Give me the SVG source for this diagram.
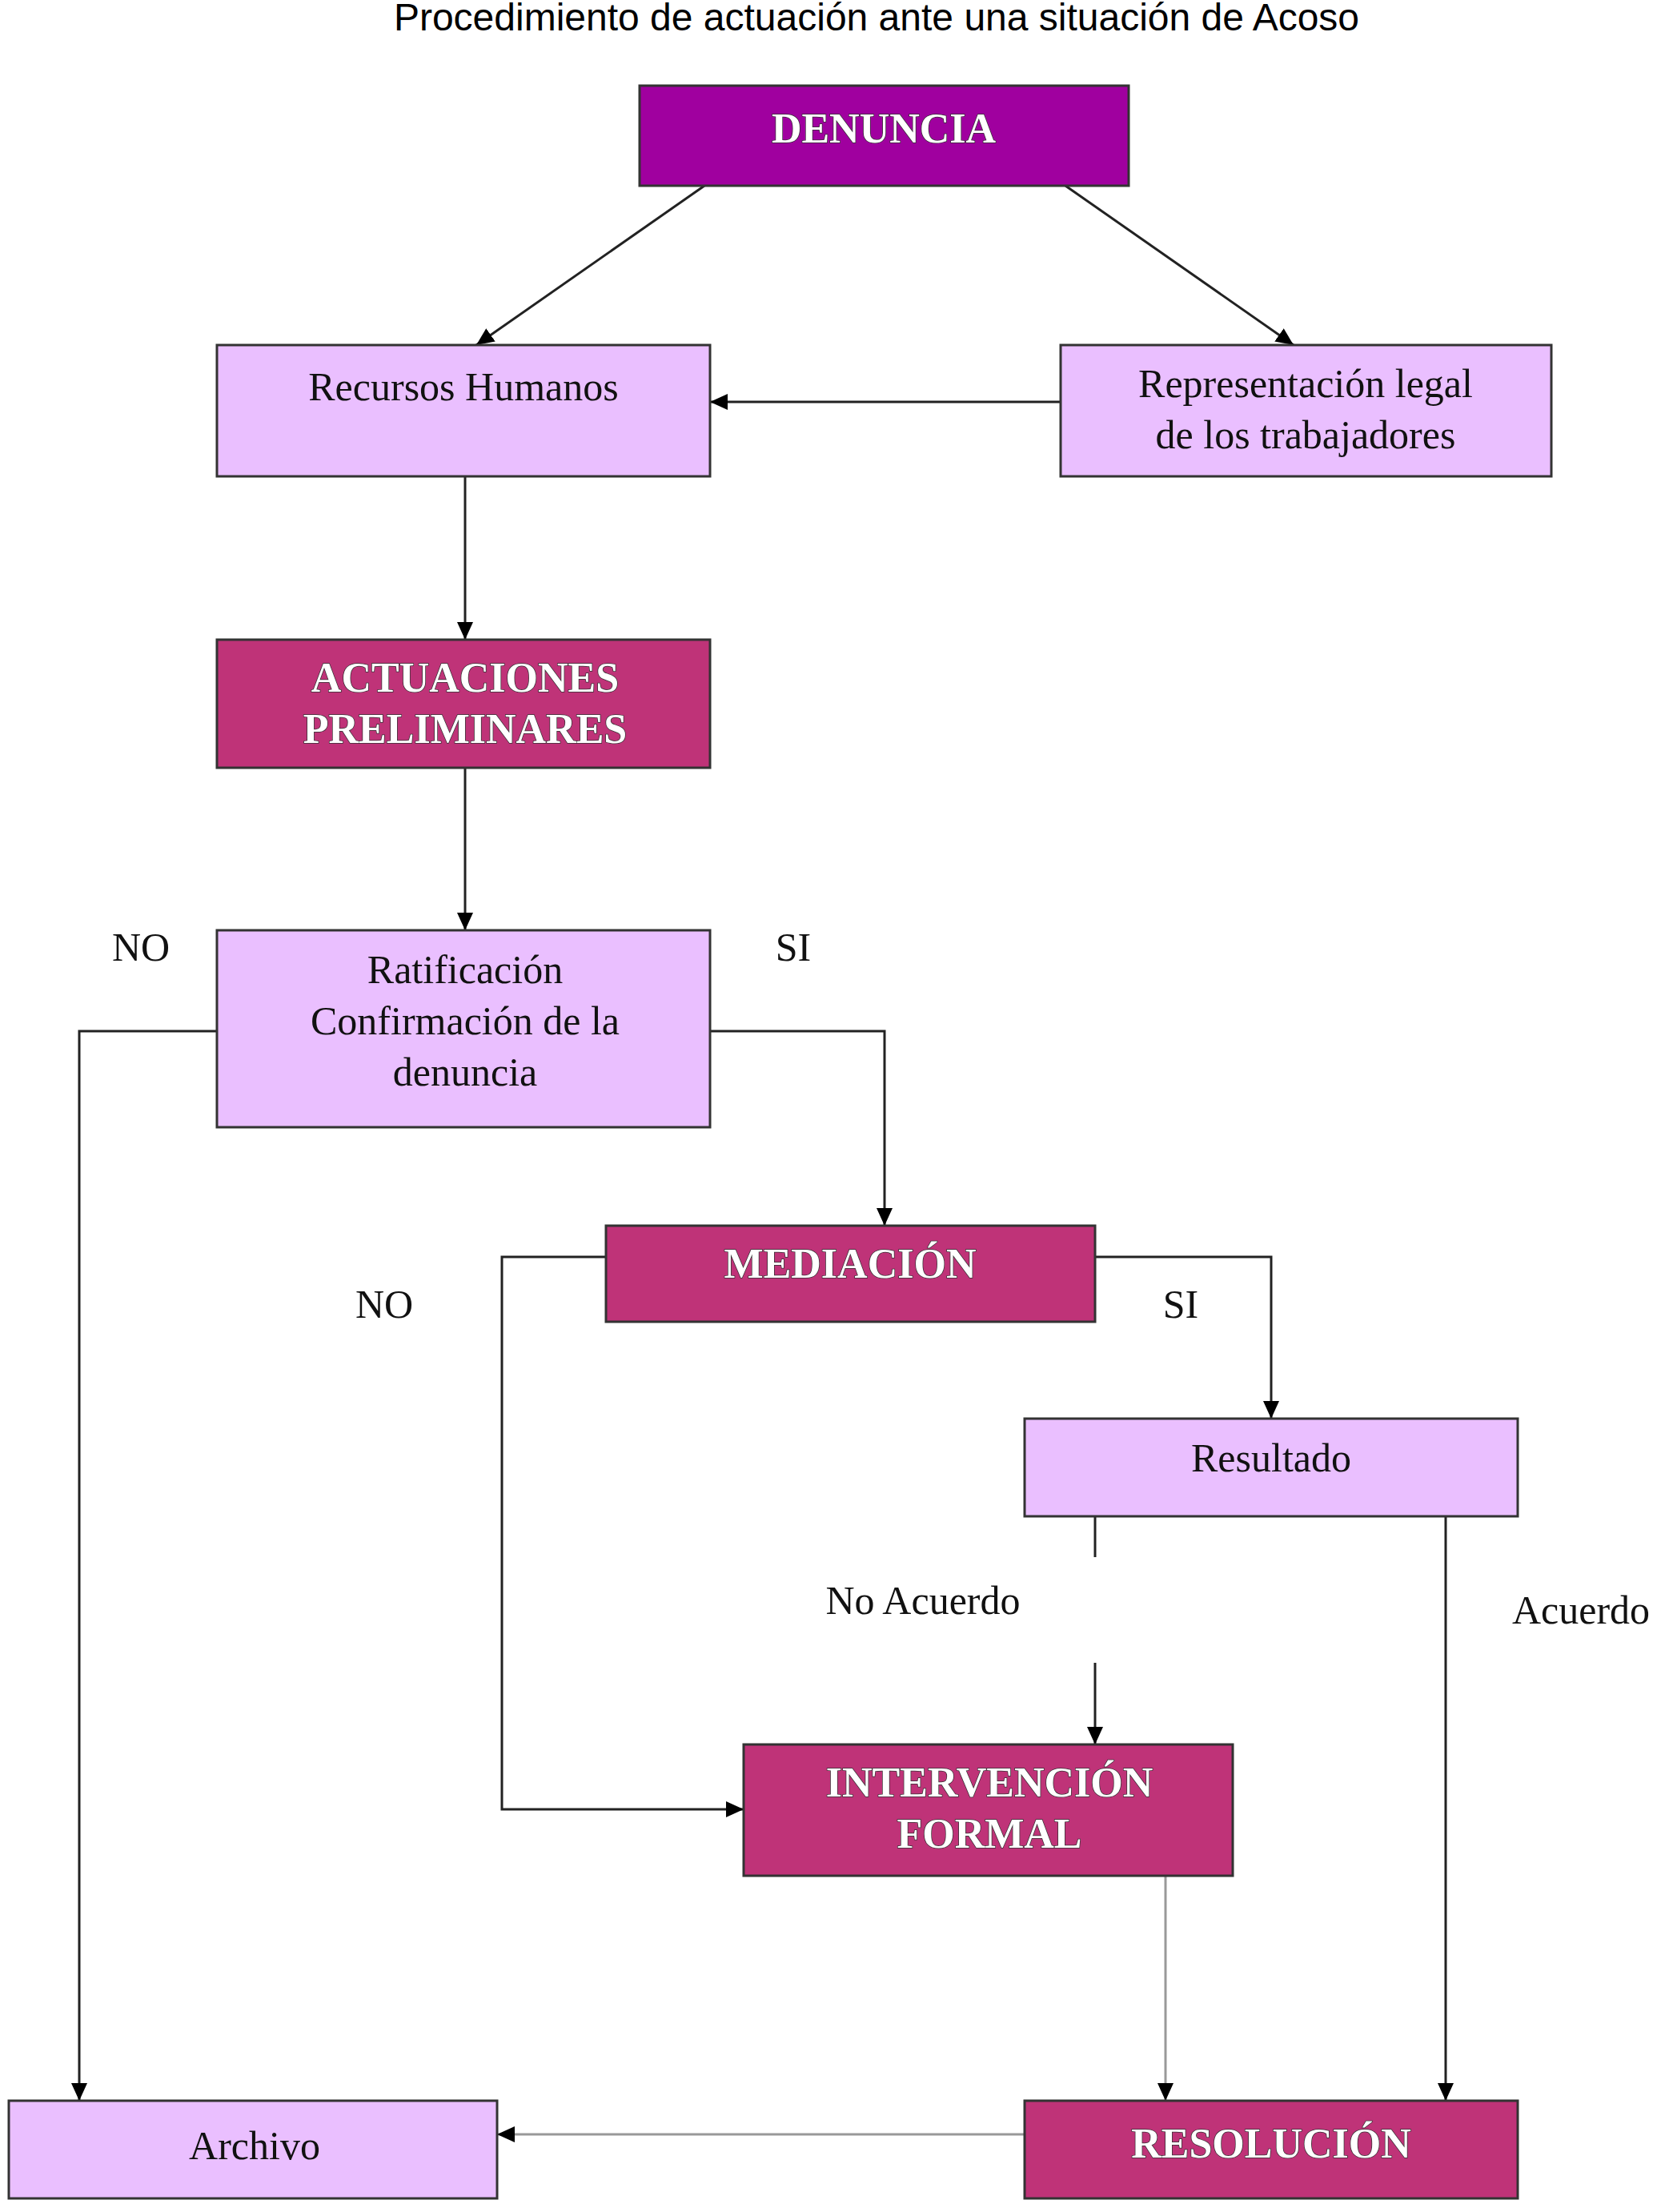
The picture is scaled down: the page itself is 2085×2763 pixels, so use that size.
<svg xmlns="http://www.w3.org/2000/svg" width="2085" height="2763" viewBox="0 0 2085 2763">
<style>
.light{fill:#eabfff;stroke:#333;stroke-width:3}
.dark{fill:#bf3378;stroke:#333;stroke-width:3}
.purple{fill:#a0009f;stroke:#333;stroke-width:3}
.t{font-family:"Liberation Serif",serif;font-size:50px;fill:#111;text-anchor:middle}
.w{font-family:"Liberation Serif",serif;font-size:52px;font-weight:bold;fill:#fff;text-anchor:middle;stroke:#333;stroke-width:1.5;paint-order:stroke}
.l{font-family:"Liberation Serif",serif;font-size:50px;fill:#111;text-anchor:middle}
.c{fill:none;stroke:#222;stroke-width:3}
.g{fill:none;stroke:#999;stroke-width:3}
</style>
<defs>
<marker id="a" viewBox="0 0 10 10" refX="10" refY="5" markerWidth="8" markerHeight="8" markerUnits="userSpaceOnUse" orient="auto"><path d="M0,0L10,5L0,10z" fill="#000"/></marker>
<marker id="b" markerWidth="22" markerHeight="20" refX="22" refY="10" markerUnits="userSpaceOnUse" orient="auto"><path d="M0,0L22,10L0,20z" fill="#000"/></marker>
</defs>
<rect width="2085" height="2763" fill="#fff"/>
<text x="1095" y="38" font-family="Liberation Sans,Arial,sans-serif" font-size="48" text-anchor="middle" fill="#000">Procedimiento de actuación ante una situación de Acoso</text>
<g id="connectors">
<path class="c" d="M880,232L595,431" marker-end="url(#b)"/>
<path class="c" d="M1331,232L1616,431" marker-end="url(#b)"/>
<path class="c" d="M1325,502L887,502" marker-end="url(#b)"/>
<path class="c" d="M581,595L581,799" marker-end="url(#b)"/>
<path class="c" d="M581,959L581,1162" marker-end="url(#b)"/>
<path class="c" d="M271,1288L99,1288L99,2624" marker-end="url(#b)"/>
<path class="c" d="M887,1288L1105,1288L1105,1531" marker-end="url(#b)"/>
<path class="c" d="M757,1570L627,1570L627,2260L929,2260" marker-end="url(#b)"/>
<path class="c" d="M1368,1570L1588,1570L1588,1772" marker-end="url(#b)"/>
<path class="c" d="M1368,1894L1368,1945"/>
<path class="c" d="M1368,2077L1368,2179" marker-end="url(#b)"/>
<path class="c" d="M1806,1894L1806,2624" marker-end="url(#b)"/>
<path class="g" d="M1456,2343L1456,2624" marker-end="url(#b)"/>
<path class="g" d="M1280,2666L621,2666" marker-end="url(#b)"/>
</g>
<g id="denuncia"><rect class="purple" x="799" y="107" width="611" height="125"/><text class="w" x="1104" y="178">DENUNCIA</text></g>
<g id="rrhh"><rect class="light" x="271" y="431" width="616" height="164"/><text class="t" x="579" y="500">Recursos Humanos</text></g>
<g id="rep"><rect class="light" x="1325" y="431" width="613" height="164"/><text class="t" x="1631" y="496">Representación legal</text><text class="t" x="1631" y="560">de los trabajadores</text></g>
<g id="actuaciones"><rect class="dark" x="271" y="799" width="616" height="160"/><text class="w" x="581" y="864">ACTUACIONES</text><text class="w" x="581" y="928">PRELIMINARES</text></g>
<g id="ratificacion"><rect class="light" x="271" y="1162" width="616" height="246"/><text class="t" x="581" y="1228">Ratificación</text><text class="t" x="581" y="1292">Confirmación de la</text><text class="t" x="581" y="1356">denuncia</text></g>
<g id="mediacion"><rect class="dark" x="757" y="1531" width="611" height="120"/><text class="w" x="1062" y="1596">MEDIACIÓN</text></g>
<g id="resultado"><rect class="light" x="1280" y="1772" width="616" height="122"/><text class="t" x="1588" y="1838">Resultado</text></g>
<g id="intervencion"><rect class="dark" x="929" y="2179" width="611" height="164"/><text class="w" x="1236" y="2244">INTERVENCIÓN</text><text class="w" x="1236" y="2308">FORMAL</text></g>
<g id="archivo"><rect class="light" x="11" y="2624" width="610" height="122"/><text class="t" x="318" y="2697">Archivo</text></g>
<g id="resolucion"><rect class="dark" x="1280" y="2624" width="616" height="122"/><text class="w" x="1588" y="2695">RESOLUCIÓN</text></g>
<g id="labels">
<text class="l" x="176" y="1200">NO</text>
<text class="l" x="991" y="1200">SI</text>
<text class="l" x="480" y="1646">NO</text>
<text class="l" x="1475" y="1646">SI</text>
<text class="l" x="1153" y="2016">No Acuerdo</text>
<text class="l" x="1975" y="2028">Acuerdo</text>
</g>
</svg>
